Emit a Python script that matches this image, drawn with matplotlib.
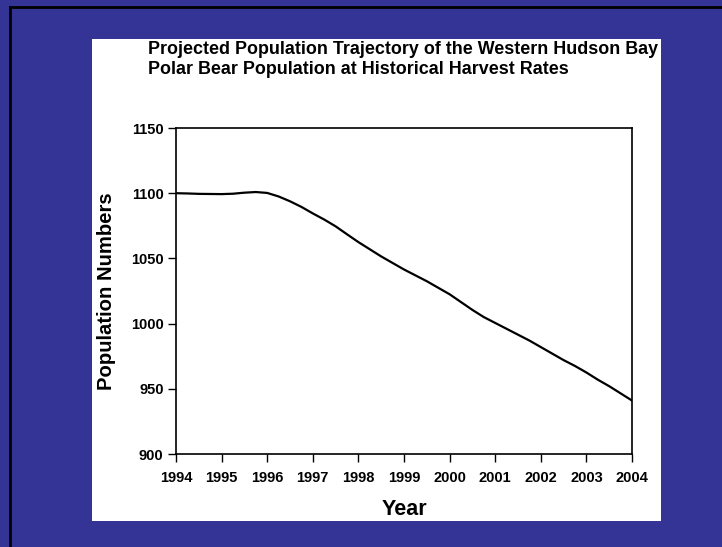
import matplotlib.pyplot as plt
from matplotlib.patches import Rectangle
from matplotlib.lines import Line2D

# projected population, read every quarter year
years = [1994.0, 1994.25, 1994.5, 1994.75, 1995.0, 1995.25, 1995.5, 1995.75,
         1996.0, 1996.25, 1996.5, 1996.75, 1997.0, 1997.25, 1997.5, 1997.75,
         1998.0, 1998.25, 1998.5, 1998.75, 1999.0, 1999.25, 1999.5, 1999.75,
         2000.0, 2000.25, 2000.5, 2000.75, 2001.0, 2001.25, 2001.5, 2001.75,
         2002.0, 2002.25, 2002.5, 2002.75, 2003.0, 2003.25, 2003.5, 2003.75,
         2004.0]
population = [1100, 1099.8, 1099.5, 1099.4, 1099.3, 1099.6, 1100.4, 1100.9,
              1100.2, 1097.5, 1093.8, 1089.5, 1084.5, 1079.8, 1074.6, 1068.5,
              1062.5, 1057, 1051.5, 1046.5, 1041.5, 1037, 1032.5, 1027.5,
              1022.5, 1016.5, 1010.5, 1005, 1000.5, 996, 991.5, 987,
              982, 977, 972, 967.5, 962.5, 957, 952, 946.5,
              941]

year_ticks = list(range(1994, 2005))
pop_ticks = [900, 950, 1000, 1050, 1100, 1150]

plt.rcParams['font.family'] = ['Liberation Sans', 'DejaVu Sans']
plt.rcParams['font.weight'] = 'bold'

W, H = 722, 547
fig = plt.figure(figsize=(W / 100, H / 100), dpi=100)
fig.patch.set_facecolor('#343496')

# white slide panel, behind the axes
fig.patches.append(Rectangle((92 / W, 1 - 521 / H), (661 - 92) / W, (521 - 39) / H,
                             transform=fig.transFigure, facecolor='white',
                             edgecolor='none', zorder=-2))
# black edge along top and left
fig.lines.append(Line2D([9.5 / W, 9.5 / W], [0, 1 - 6.5 / H], transform=fig.transFigure,
                        color='black', lw=2))
fig.lines.append(Line2D([9.5 / W, 1], [1 - 6.5 / H, 1 - 6.5 / H], transform=fig.transFigure,
                        color='black', lw=2))

ax = fig.add_axes([176 / W, 1 - 454 / H, (632 - 176) / W, (454 - 128) / H])
ax.plot(years, population, color='black', lw=1.6, solid_joinstyle='round')

ax.set_xlim(1994, 2004)
ax.set_ylim(900, 1150)
ax.set_xticks(year_ticks)
ax.set_yticks(pop_ticks)
ax.tick_params(direction='out', length=6, width=1, labelsize=10.5)
ax.tick_params(axis='x', pad=6.5)
ax.tick_params(axis='y', pad=3)
for lbl in ax.get_xticklabels() + ax.get_yticklabels():
    lbl.set_fontweight('bold')
for s in ax.spines.values():
    s.set_linewidth(1.2)

ax.set_xlabel('Year', fontsize=15.5, fontweight='bold', labelpad=9.5)
ax.set_ylabel('Population Numbers', fontsize=14.6, fontweight='bold', labelpad=10.5)

fig.text(148 / W, 1 - 41 / H,
         'Projected Population Trajectory of the Western Hudson Bay\n'
         'Polar Bear Population at Historical Harvest Rates',
         ha='left', va='top', fontsize=12.9, fontweight='bold', linespacing=1.2)

fig.savefig('out.png', dpi=100, facecolor=fig.get_facecolor())
